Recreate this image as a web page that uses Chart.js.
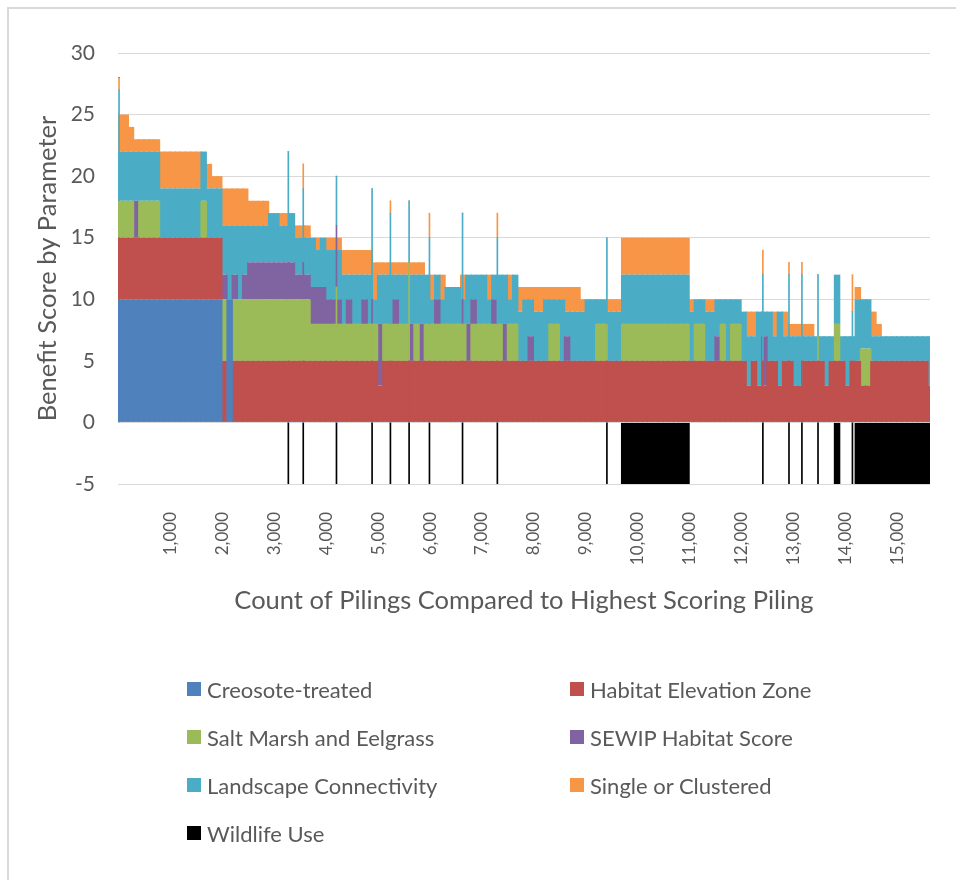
<!DOCTYPE html>
<html>
<head>
<meta charset="utf-8">
<script src="https://cdn.jsdelivr.net/npm/chart.js@4.4.1/dist/chart.umd.min.js"></script>
<style>
html,body{margin:0;padding:0;background:#fff;}
#wrap{position:relative;width:956px;height:880px;overflow:hidden;font-family:Lato,sans-serif;}
#frame{position:absolute;left:7px;top:7px;width:980px;height:900px;border-top:2px solid #D9D9D9;border-left:2px solid #D9D9D9;}
#chart{position:absolute;left:0;top:0;}
#legend{position:absolute;left:187px;top:665px;display:grid;grid-template-columns:383px auto;grid-auto-rows:48px;color:#595959;font-size:22px;}
.item{display:flex;align-items:center;}
.box{width:14px;height:14px;margin-right:6px;flex:none;}
.xtick{position:absolute;width:0;height:0;transform:rotate(-90deg);transform-origin:0 0;}
.xtick span{position:absolute;right:0;top:-10px;line-height:20px;white-space:nowrap;font-size:17px;color:#595959;}
</style>
</head>
<body>
<div id="wrap">
<div id="frame"></div>
<canvas id="chart" width="956" height="880"></canvas>
<div id="legend"></div>
</div>
<script>
// each bin holds 100 pilings, sorted from highest to lowest total score
const binSize = 100;

const seriesNames = ["Creosote-treated","Habitat Elevation Zone","Salt Marsh and Eelgrass","SEWIP Habitat Score","Landscape Connectivity","Single or Clustered","Wildlife Use"];
const seriesColors = ["#4F81BD","#C0504D","#9BBB59","#8064A2","#4BACC6","#F79646","#000000"];

const creosote = [
10,10,10,10,10,10,10,10,10,10,
10,10,10,10,10,10,10,10,10,10,
0,10,0,0,0,0,0,0,0,0,
0,0,0,0,0,0,0,0,0,0,
0,0,0,0,0,0,0,0,0,0,
0,0,0,0,0,0,0,0,0,0,
0,0,0,0,0,0,0,0,0,0,
0,0,0,0,0,0,0,0,0,0,
0,0,0,0,0,0,0,0,0,0,
0,0,0,0,0,0,0,0,0,0,
0,0,0,0,0,0,0,0,0,0,
0,0,0,0,0,0,0,0,0,0,
0,0,0,0,0,0,0,0,0,0,
0,0,0,0,0,0,0,0,0,0,
0,0,0,0,0,0,0,0,0,0,
0,0,0,0,0,0,0];

const habitat = [
5,5,5,5,5,5,5,5,5,5,
5,5,5,5,5,5,5,5,5,5,
5,0,5,5,5,5,5,5,5,5,
5,5,5,5,5,5,5,5,5,5,
5,5,5,5,5,5,5,5,5,5,
3,5,5,5,5,5,5,5,5,5,
5,5,5,5,5,5,5,5,5,5,
5,5,5,5,5,5,5,5,5,5,
5,5,5,5,5,5,5,5,5,5,
5,5,5,5,5,5,5,5,5,5,
5,5,5,5,5,5,5,5,5,5,
5,5,5,5,5,5,5,5,5,5,
5,3,5,3,3,5,5,3,5,5,
3,3,5,5,5,5,3,5,5,5,
3,5,5,3,3,5,5,5,5,5,
5,5,5,5,5,5,3];

const saltMarsh = [
3,3,3,0,3,3,3,3,0,0,
0,0,0,0,0,0,3,0,0,0,
5,0,5,5,5,5,5,5,5,5,
5,5,5,5,5,5,5,3,3,3,
3,3,3,3,3,3,3,3,3,3,
0,3,3,3,3,3,0,3,0,3,
3,3,3,3,3,3,3,0,3,3,
3,3,3,3,0,3,3,0,0,0,
0,0,0,3,3,0,0,0,0,0,
0,0,3,3,0,0,0,3,3,3,
3,3,3,3,3,3,3,3,3,3,
0,3,3,0,0,0,3,0,3,3,
0,0,0,0,0,0,0,0,0,0,
0,0,0,0,0,0,0,0,3,0,
0,0,0,3,3,0,0,0,0,0,
0,0,0,0,0,0,0];

const sewip = [
0,0,0,3,0,0,0,0,0,0,
0,0,0,0,0,0,0,0,0,0,
2,0,2,0,2,3,3,3,3,3,
3,3,3,3,2,2,2,3,3,3,
2,2,2,0,2,0,0,2,0,0,
5,0,0,2,0,0,3,0,3,0,
0,2,0,0,0,0,0,3,2,0,
0,0,2,0,3,0,0,0,0,2,
0,0,0,0,0,0,2,0,0,0,
0,0,0,0,0,0,0,0,0,0,
0,0,0,0,0,0,0,0,0,0,
0,0,0,0,0,2,0,0,0,0,
0,0,0,0,4,0,0,0,0,0,
0,0,0,0,0,0,0,0,0,0,
0,0,0,0,0,0,0,0,0,0,
0,0,0,0,0,0,0];

const landscape = [
4,4,4,4,4,4,4,4,4,4,
4,4,4,4,4,4,4,4,4,4,
4,6,4,6,4,3,3,3,3,4,
4,3,3,4,3,3,3,4,3,4,
4,4,4,4,2,4,4,2,4,2,
4,4,4,2,4,4,4,4,4,4,
2,2,2,3,3,3,2,4,2,4,
4,2,2,4,4,2,4,4,5,3,
4,4,5,2,2,5,2,4,4,4,
5,5,2,2,4,4,4,4,4,4,
4,4,4,4,4,4,4,4,4,4,
4,2,2,4,4,3,2,5,2,2,
4,4,2,6,2,4,2,6,2,2,
4,4,2,2,2,2,4,2,4,2,
4,2,5,4,4,2,2,2,2,2,
2,2,2,2,2,2,4];

const single = [
3,3,2,1,1,1,1,1,3,3,
3,3,3,3,3,3,0,2,1,1,
3,3,3,3,3,2,2,2,2,0,
0,1,1,0,1,1,1,0,1,0,
1,1,1,2,2,2,2,2,2,3,
1,1,1,1,1,1,1,1,1,0,
2,0,2,0,0,0,2,0,0,0,
0,2,0,0,0,2,0,2,1,1,
2,2,1,1,1,1,2,2,2,1,
0,0,0,0,1,1,1,3,3,3,
3,3,3,3,3,3,3,3,3,3,
1,0,0,1,1,0,0,0,0,0,
0,2,2,0,0,0,2,0,2,1,
1,1,1,1,0,0,0,0,0,0,
0,0,1,0,0,2,1,0,0,0,
0,0,0,0,0,0,0];

const wildlife = [
0,0,0,0,0,0,0,0,0,0,
0,0,0,0,0,0,0,0,0,0,
0,0,0,0,0,0,0,0,0,0,
0,0,0,0,0,0,0,0,0,0,
0,0,0,0,0,0,0,0,0,0,
0,0,0,0,0,0,0,0,0,0,
0,0,0,0,0,0,0,0,0,0,
0,0,0,0,0,0,0,0,0,0,
0,0,0,0,0,0,0,0,0,0,
0,0,0,0,0,0,0,-5,-5,-5,
-5,-5,-5,-5,-5,-5,-5,-5,-5,-5,
0,0,0,0,0,0,0,0,0,0,
0,0,0,0,0,0,0,0,0,0,
0,0,0,0,0,0,0,0,-5,0,
0,0,-5,-5,-5,-5,-5,-5,-5,-5,
-5,-5,-5,-5,-5,-5,-5];

// single pilings that stand out as thin spikes
const spikePilings = [20,3281,3568,4208,4894,5247,5607,5999,6636,7307,9417,12421,12924,13173,13483,14146];
const spikeCreosote = [10,0,0,0,0,0,0,0,0,0,0,0,0,0,0,0];
const spikeHabitat  = [5,5,5,5,5,5,5,5,5,5,5,5,5,5,5,5];
const spikeSalt     = [3,5,5,6,3,3,8,3,3,3,3,0,0,0,2,0];
const spikeSewip    = [0,3,3,5,2,0,0,0,2,0,0,0,0,0,0,0];
const spikeLand     = [9,9,6,4,9,9,5,7,7,7,7,7,7,7,5,4];
const spikeSingle   = [1,0,2,0,0,1,0,2,0,2,0,2,1,1,0,3];
const spikeWildlife = [0,-5,-5,-5,-5,-5,-5,-5,-5,-5,-5,-5,-5,-5,-5,-5];

const xTickLabels = [1000,2000,3000,4000,5000,6000,7000,8000,9000,10000,11000,12000,13000,14000,15000];
const xMax = 15640;
const yTicks = [-5, 30, 5]; // min, max, step

const binSeries = [creosote, habitat, saltMarsh, sewip, landscape, single, wildlife];
const spikeSeries = [spikeCreosote, spikeHabitat, spikeSalt, spikeSewip, spikeLand, spikeSingle, spikeWildlife];

const binCenters = [];
for (let i = 0; i < creosote.length; i++) binCenters.push(i * binSize + binSize / 2);

const datasets = [];
binSeries.forEach((vals, k) => {
  datasets.push({
    label: seriesNames[k],
    data: vals.map((v, i) => ({x: binCenters[i], y: v})),
    backgroundColor: seriesColors[k],
    borderWidth: 0,
    grouped: false,
    barPercentage: 1.25,   // slight overlap so no white seams between bins
    categoryPercentage: 1,
    clip: 0,
    xAxisID: 'x'
  });
});
spikeSeries.forEach((vals, k) => {
  datasets.push({
    label: seriesNames[k] + ' (single piling)',
    data: vals.map((v, i) => ({x: spikePilings[i], y: v})),
    backgroundColor: seriesColors[k],
    borderWidth: 0,
    grouped: false,
    barThickness: 1,
    clip: 0,
    xAxisID: 'x2',
    order: -1
  });
});

Chart.defaults.font.family = 'Lato';
const grey = '#595959';
const xTickPad = 28;

const chart = new Chart(document.getElementById('chart'), {
  type: 'bar',
  data: { datasets: datasets },
  options: {
    responsive: false,
    animation: false,
    devicePixelRatio: 1,
    layout: { padding: { left: 0, top: 53, right: 26, bottom: 256 } },
    plugins: { legend: { display: false }, tooltip: { enabled: false } },
    scales: {
      x: {
        type: 'linear', min: 0, max: xMax, stacked: true, offset: false,
        grid: { display: false, drawTicks: false }, border: { display: false },
        ticks: { display: false },
        afterFit: s => { s.height = 140; },
        title: { display: true, text: 'Count of Pilings Compared to Highest Scoring Piling', color: grey, font: { size: 25.5 }, padding: { top: 0, bottom: 8 } }
      },
      x2: { type: 'linear', min: 0, max: xMax, stacked: true, offset: false, display: false },
      y: {
        stacked: true, min: yTicks[0], max: yTicks[1],
        ticks: { stepSize: yTicks[2], padding: 23, color: grey, font: { size: 21 } },
        grid: { color: '#D9D9D9', drawTicks: false, lineWidth: 1 },
        border: { display: false },
        afterFit: s => { s.width = 118; },
        title: { display: true, text: 'Benefit Score by Parameter', color: grey, font: { size: 25.5 }, padding: { top: 32, bottom: 0 } }
      }
    }
  }
});

// rotated count labels, placed with the x scale
const wrap = document.getElementById('wrap');
const xs = chart.scales.x;
xTickLabels.forEach(v => {
  const a = document.createElement('div');
  a.className = 'xtick';
  a.style.left = xs.getPixelForValue(v) + 'px';
  a.style.top = (xs.top + xTickPad) + 'px';
  const t = document.createElement('span');
  t.textContent = v.toLocaleString('en-US');
  a.appendChild(t);
  wrap.appendChild(a);
});

// legend in two columns, like the original
const legend = document.getElementById('legend');
seriesNames.forEach((name, k) => {
  const item = document.createElement('div');
  item.className = 'item';
  const box = document.createElement('span');
  box.className = 'box';
  box.style.background = seriesColors[k];
  const label = document.createElement('span');
  label.textContent = name;
  item.appendChild(box);
  item.appendChild(label);
  legend.appendChild(item);
});
</script>
</body>
</html>
